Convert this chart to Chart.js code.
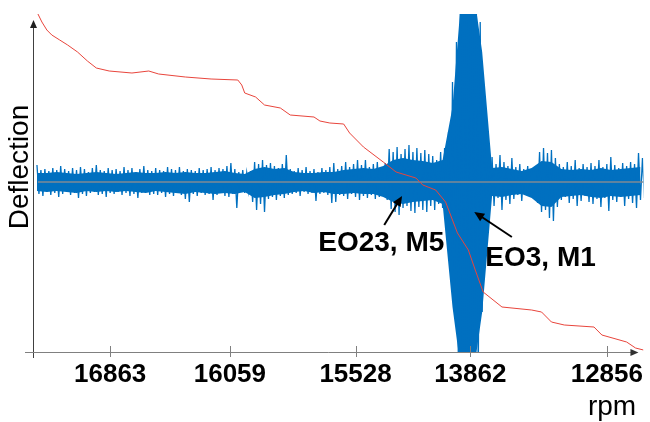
<!DOCTYPE html>
<html>
<head>
<meta charset="utf-8">
<script src="https://cdn.jsdelivr.net/npm/chart.js@4.4.0/dist/chart.umd.min.js"></script>
<style>
  html, body { margin: 0; padding: 0; background: #fff; }
</style>
</head>
<body>
<canvas id="deflectionChart" width="650" height="422"></canvas>
<script>
// tip deflection peaks (above / below mean), one pair every 4 time units
const sampleStart = 4, sampleStep = 4;
const upperPeak = [
  17,12,13,11,14,12,16,13,11,14,
  12,15,13,10,14,17,12,11,14,12,
  13,11,15,12,14,10,13,16,12,11,
  14,12,11,15,13,12,15,11,13,12,
  11,14,12,13,15,12,14,13,16,19,
  13,10,12,9,11,20,18,22,17,19,
  16,14,18,27,13,11,14,12,15,11,
  13,10,14,12,15,19,13,16,20,15,
  18,22,17,22,15,18,20,14,19,33,
  30,35,28,33,37,30,34,29,32,28,
  26,22,30,34,50,100,140,185,200,200,
  200,200,160,60,22,25,18,27,20,16,
  24,15,18,13,16,12,14,30,34,29,
  32,24,18,15,20,16,22,14,18,15,
  19,16,22,15,18,25,17,14,19,16,
  20,18,29,24
];
const lowerPeak = [
  12,14,10,13,11,15,12,10,13,11,
  16,12,14,11,10,13,12,15,11,12,
  10,13,11,14,12,16,11,10,13,12,
  13,11,15,12,14,11,13,17,20,12,
  14,11,13,12,18,13,11,14,15,12,
  26,10,11,9,20,28,22,30,17,15,
  18,14,16,13,12,11,14,10,12,11,
  19,12,11,13,21,20,13,14,17,12,
  15,18,14,16,13,17,15,12,18,27,
  30,33,26,24,29,31,25,28,30,24,
  28,22,26,30,80,130,200,200,200,200,
  200,200,130,25,20,24,16,28,18,22,
  17,13,19,11,15,14,21,30,28,36,
  39,25,18,15,21,17,24,19,14,20,
  22,17,25,16,29,18,20,15,24,17,
  21,26,18,16
];

// solid band of the signal (dense oscillation), one value every 10 time units
const coreStart = 4, coreStep = 10;
const coreUpper = [
  9,9,10,9,8,9,10,9,8,9,
  10,9,9,10,9,10,9,9,10,11,
  9,8,13,15,13,14,10,9,9,10,
  10,12,13,14,13,16,22,24,22,21,
  19,22,75,200,200,130,14,15,13,11,
  14,21,20,13,12,13,12,14,12,13,
  14,15
];
const coreLower = [
  9,10,9,10,11,9,10,9,10,9,
  10,11,9,10,11,12,10,11,12,11,
  12,10,16,15,13,12,10,9,11,10,
  12,12,11,12,12,15,20,22,20,19,
  18,22,125,200,200,130,14,15,13,12,
  16,24,25,15,14,13,15,16,14,15,
  14,13
];

// rotor speed trace (relative level)
const speedTime  = [5,9,14,19,27,35,45,55,64,77,100,117,127,154,180,207,211,214,225,234,250,260,284,290,300,314,320,334,354,367,387,394,407,417,429,440,447,455,474,504,514,524,537,567,575,600,609,617];
const speedLevel = [338,330,322,317,312,307,300,291,284,281,279,281,278,275,273,272,267,259,255,247,244,237,235,231,229,228,219,205,190,180,174,167,162,150,119,102,82,60,45,42,40,30,27,25,17,10,4,2];

const rpmTickTime  = [78, 199, 326, 442, 580];
const rpmTickLabel = ['16863', '16059', '15528', '13862', '12856'];

const spikes = [];
upperPeak.forEach((u, i) => {
  const t = sampleStart + i * sampleStep;
  spikes.push({ x: t, y: u });
  spikes.push({ x: t + sampleStep / 2, y: -lowerPeak[i] });
});
const coreTop = coreUpper.map((v, i) => ({ x: coreStart + i * coreStep, y: v }));
const coreBottom = coreLower.map((v, i) => ({ x: coreStart + i * coreStep, y: -v }));
const speed = speedTime.map((t, i) => ({ x: t, y: speedLevel[i] }));

const notes = [
  { text: 'EO23, M5', tip: [373, -14], tail: [355, -43], at: [352, -61] },
  { text: 'EO3, M1',  tip: [446, -30], tail: [484, -55], at: [513, -76] }
];

const FONT = "'Liberation Sans', Arial, sans-serif";
const BLUE = '#0070C0';

function arrowHead(ctx, x1, y1, x2, y2, len, half) {
  const a = Math.atan2(y2 - y1, x2 - x1);
  ctx.beginPath();
  ctx.moveTo(x2, y2);
  ctx.lineTo(x2 - len * Math.cos(a) + half * Math.sin(a), y2 - len * Math.sin(a) - half * Math.cos(a));
  ctx.lineTo(x2 - len * Math.cos(a) - half * Math.sin(a), y2 - len * Math.sin(a) + half * Math.cos(a));
  ctx.closePath();
  ctx.fill();
}

const decor = {
  id: 'decor',
  afterDraw(chart) {
    const { ctx, chartArea: a, scales } = chart;
    const x = scales.x, y = scales.y;
    ctx.save();

    // y axis
    ctx.strokeStyle = '#404040';
    ctx.fillStyle = '#202020';
    ctx.lineWidth = 1;
    ctx.beginPath();
    ctx.moveTo(a.left + 0.5, a.bottom + 6);
    ctx.lineTo(a.left + 0.5, a.top + 12);
    ctx.stroke();
    arrowHead(ctx, a.left + 0.5, a.bottom, a.left + 0.5, a.top + 6, 8, 3.5);

    // x axis
    ctx.strokeStyle = '#808080';
    ctx.fillStyle = '#303030';
    ctx.beginPath();
    ctx.moveTo(a.left - 8, a.bottom + 0.5);
    ctx.lineTo(a.right - 12, a.bottom + 0.5);
    ctx.stroke();
    arrowHead(ctx, a.left, a.bottom + 0.5, a.right - 5, a.bottom + 0.5, 8, 3.5);
    x.ticks.forEach(t => {
      const px = Math.round(x.getPixelForValue(t.value)) + 0.5;
      ctx.beginPath();
      ctx.moveTo(px, a.bottom - 6);
      ctx.lineTo(px, a.bottom + 5);
      ctx.stroke();
    });

    // axis titles
    ctx.fillStyle = '#000';
    ctx.font = '28px ' + FONT;
    ctx.textAlign = 'center';
    ctx.textBaseline = 'alphabetic';
    ctx.fillText('rpm', 612, 415);
    ctx.save();
    ctx.translate(28, 167);
    ctx.rotate(-Math.PI / 2);
    ctx.fillText('Deflection', 0, 0);
    ctx.restore();

    // mode annotations
    ctx.font = 'bold 28px ' + FONT;
    ctx.textBaseline = 'middle';
    ctx.strokeStyle = '#000';
    ctx.fillStyle = '#000';
    ctx.lineWidth = 2;
    notes.forEach(n => {
      const tx = x.getPixelForValue(n.tip[0]), ty = y.getPixelForValue(n.tip[1]);
      const sx = x.getPixelForValue(n.tail[0]), sy = y.getPixelForValue(n.tail[1]);
      ctx.beginPath();
      ctx.moveTo(sx, sy);
      ctx.lineTo(tx - (tx - sx) * 0.2, ty - (ty - sy) * 0.2);
      ctx.stroke();
      arrowHead(ctx, sx, sy, tx, ty, 10, 4.5);
      ctx.fillText(n.text, x.getPixelForValue(n.at[0]), y.getPixelForValue(n.at[1]));
    });
    ctx.restore();
  }
};

new Chart(document.getElementById('deflectionChart').getContext('2d'), {
  type: 'line',
  data: {
    datasets: [
      {
        label: 'Speed',
        data: speed,
        yAxisID: 'ySpeed',
        borderColor: '#E8453C',
        borderWidth: 1,
        pointRadius: 0,
        order: 0
      },
      {
        label: 'Mean',
        data: [{ x: 5, y: 0 }, { x: 617, y: 0 }],
        borderColor: '#7F8A95',
        borderWidth: 1.5,
        pointRadius: 0,
        order: 1
      },
      {
        label: 'Deflection',
        data: spikes,
        borderColor: BLUE,
        borderWidth: 1.3,
        pointRadius: 0,
        order: 2
      },
      {
        label: 'Band (upper)',
        data: coreTop,
        borderColor: BLUE,
        backgroundColor: BLUE,
        borderWidth: 0,
        pointRadius: 0,
        fill: 'origin',
        order: 3
      },
      {
        label: 'Band (lower)',
        data: coreBottom,
        borderColor: BLUE,
        backgroundColor: BLUE,
        borderWidth: 0,
        pointRadius: 0,
        fill: 'origin',
        order: 4
      }
    ]
  },
  options: {
    responsive: false,
    animation: false,
    layout: { padding: { left: 33, top: 14, right: 0, bottom: 0 } },
    elements: { line: { tension: 0 } },
    plugins: {
      legend: { display: false },
      tooltip: { enabled: false },
      filler: { drawTime: 'beforeDatasetsDraw' }
    },
    scales: {
      x: {
        type: 'linear',
        min: 0,
        max: 617,
        grid: { display: false, drawTicks: false },
        border: { display: false },
        afterBuildTicks: s => { s.ticks = rpmTickTime.map(v => ({ value: v })); },
        afterFit: s => { s.height = 70; },
        ticks: {
          autoSkip: false,
          maxRotation: 0,
          padding: 7,
          color: '#000',
          font: { family: FONT, size: 26, weight: 'bold' },
          callback: (v, i) => rpmTickLabel[i]
        }
      },
      y: { display: false, min: -170, max: 168 },
      ySpeed: { display: false, min: 0, max: 338 }
    }
  },
  plugins: [decor]
});
</script>
</body>
</html>
